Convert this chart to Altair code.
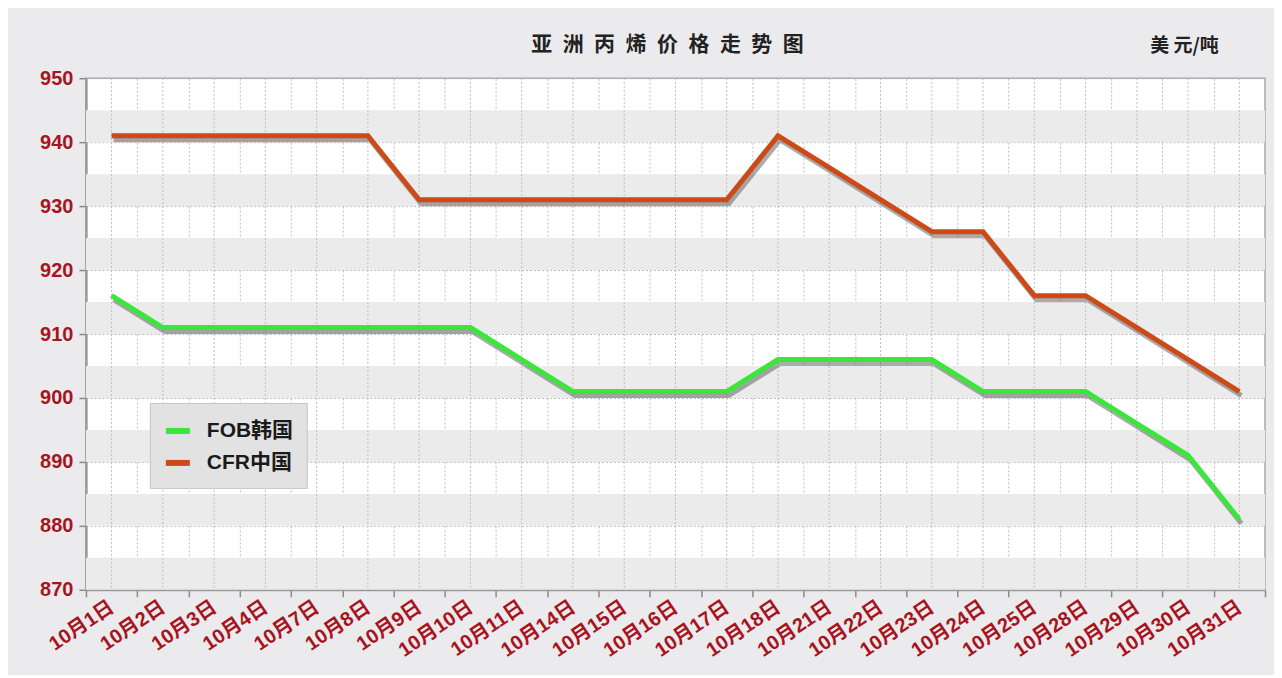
import altair as alt
import pandas as pd

categories = ["10月1日", "10月2日", "10月3日", "10月4日", "10月7日", "10月8日", "10月9日",
              "10月10日", "10月11日", "10月14日", "10月15日", "10月16日", "10月17日", "10月18日",
              "10月21日", "10月22日", "10月23日", "10月24日", "10月25日", "10月28日", "10月29日",
              "10月30日", "10月31日"]
fob_korea = [916, 911, 911, 911, 911, 911, 911, 911, 906, 901, 901, 901, 901, 906,
             906, 906, 906, 901, 901, 901, 896, 891, 881]
cfr_china = [941, 941, 941, 941, 941, 941, 931, 931, 931, 931, 931, 931, 931, 941,
             936, 931, 926, 926, 916, 916, 911, 906, 901]
series_names = ["FOB韩国", "CFR中国"]
series_colors = ["#3ae63a", "#cc4a18"]
y_ticks = [870, 875, 880, 885, 890, 895, 900, 905, 910, 915, 920, 925, 930, 935, 940, 945, 950]
stripe_starts = [870, 880, 890, 900, 910, 920, 930, 940]

rows = []
for name, vals in zip(series_names, [fob_korea, cfr_china]):
    for c, v in zip(categories, vals):
        rows.append({"date": c, "series": name, "value": v})
df = pd.DataFrame(rows)
stripes = pd.DataFrame({"y0": stripe_starts, "y1": [s + 5 for s in stripe_starts]})
cats = pd.DataFrame({"date": categories})

FONT = "Liberation Sans, Noto Sans CJK SC, sans-serif"
RED = "#a8141e"

x_enc = alt.X(
    "date:N", sort=categories,
    scale=alt.Scale(type="band", paddingInner=0, paddingOuter=0),
    axis=alt.Axis(
        title=None, tickBand="extent", grid=True, gridDash=[2, 2], gridColor="#bdbdbd",
        labelAngle=-34, labelAlign="right", labelBaseline="middle", labelPadding=8,
        labelFont=FONT, labelFontSize=20, labelFontWeight="bold", labelColor=RED,
        domainColor="#9a9a9a", domainWidth=2, tickColor="#8a8a8a", tickSize=7, tickWidth=1.5,
    ),
)
y_scale = alt.Scale(domain=[870, 950], nice=False, zero=False)

stripe_layer = alt.Chart(stripes).mark_rect(color="#ebebeb").encode(
    y=alt.Y("y0:Q", scale=y_scale,
            axis=alt.Axis(
                values=y_ticks, grid=True, gridDash=[2, 2], gridColor="#bdbdbd",
                labelExpr="datum.value % 10 == 0 ? datum.label : ''",
                tickOpacity={"condition": {"test": "datum.value % 10 == 0", "value": 1}, "value": 0},
                labelFont=FONT, labelFontSize=20, labelFontWeight="bold", labelColor=RED,
                labelPadding=6,
                domainColor="#9a9a9a", domainWidth=2.5, tickColor="#8a8a8a", tickSize=7, tickWidth=1.5,
                title="美 元/吨", titleAngle=0, titleX=1099, titleY=-33, titleAlign="center",
                titleBaseline="middle", titleFont="Noto Sans CJK SC", titleFontSize=19,
                titleFontWeight="bold", titleColor="#222222",
            )),
    y2="y1:Q",
)

vgrid = alt.Chart(cats).mark_rule(color="#bdbdbd", strokeDash=[2, 2], strokeWidth=1).encode(
    x=x_enc
)

shadow = alt.Chart(df).mark_line(
    color="#666666", opacity=0.55, strokeWidth=5, xOffset=2, yOffset=4, strokeJoin="miter"
).encode(
    x=x_enc, y=alt.Y("value:Q", scale=y_scale), detail="series:N"
)

lines = alt.Chart(df).mark_line(strokeWidth=5, strokeJoin="miter").encode(
    x=x_enc,
    y=alt.Y("value:Q", scale=y_scale),
    color=alt.Color(
        "series:N",
        scale=alt.Scale(domain=series_names, range=series_colors),
        legend=alt.Legend(
            title=None, orient="none", legendX=64, legendY=325,
            fillColor="#e2e2e2", strokeColor="#c4c4c4", padding=13,
            symbolType="stroke", symbolSize=576, symbolStrokeWidth=6,
            labelFont="Liberation Sans, Noto Sans CJK SC", labelFontSize=21,
            labelFontWeight="bold", labelColor="#1a1a1a", labelOffset=14,
            rowPadding=5, cornerRadius=0,
        ),
    ),
)

chart = alt.layer(stripe_layer, vgrid, shadow, lines).properties(
    width=1180, height=512,
    title=alt.TitleParams(
        text="亚\u2002洲\u2002丙\u2002烯\u2002价\u2002格\u2002走\u2002势\u2002图",
        font="Noto Sans CJK SC", fontSize=21, fontWeight="bold", color="#222222",
        anchor="middle", baseline="bottom", offset=-40, dx=-8, frame="group",
    ),
    background="#ebebed",
    padding={"left": 78, "top": 70, "right": 9, "bottom": 85},
    autosize=alt.AutoSizeParams(type="none"),
).configure_view(
    fill="white", stroke="#a8a8a8", strokeWidth=1.5
)

chart.save("out.html", embed_options={"renderer": "svg", "actions": False})
